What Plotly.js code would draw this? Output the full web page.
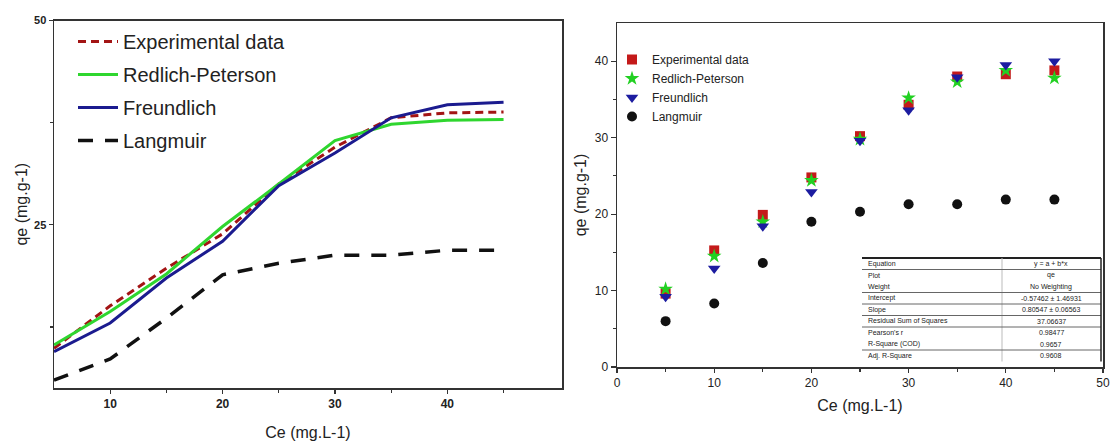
<!DOCTYPE html>
<html>
<head>
<meta charset="utf-8">
<script src="https://cdn.plot.ly/plotly-3.0.1.min.js"></script>
<style>html,body{margin:0;padding:0;background:#fff;}#chart{width:1110px;height:441px;}</style>
</head>
<body>
<div id="chart"></div>
<script>
// ---- data ----
const ce = [5, 10, 15, 20, 25, 30, 35, 40, 45];
// left panel (lines)
const lineExperimental = [9.9, 15.1, 19.7, 23.9, 30.0, 34.5, 38.1, 38.7, 38.8];
const lineRedlichPeterson = [10.3, 14.4, 19.0, 24.8, 30.0, 35.3, 37.3, 37.8, 37.9];
const lineFreundlich = [9.5, 13.0, 18.5, 23.0, 29.8, 33.8, 38.1, 39.7, 40.0];
const lineLangmuir = [6.0, 8.6, 13.6, 18.9, 20.3, 21.3, 21.3, 21.9, 21.9];
// right panel (markers)
const experimental = [9.6, 15.25, 19.9, 24.8, 30.2, 34.3, 38.0, 38.3, 38.8];
const redlichPeterson = [10.2, 14.5, 19.0, 24.4, 29.8, 35.2, 37.3, 38.8, 37.8];
const freundlich = [9.2, 12.9, 18.4, 22.9, 29.6, 33.6, 37.9, 39.5, 40.0];
const langmuir = [6.0, 8.3, 13.6, 19.0, 20.3, 21.3, 21.3, 21.9, 21.9];
const seriesNames = ['Experimental data', 'Redlich-Peterson', 'Freundlich', 'Langmuir'];
const xTitle = 'Ce (mg.L-1)';
const yTitle = 'qe (mg.g-1)';
const tableLabels = ['Equation', 'Plot', 'Weight', 'Intercept', 'Slope', 'Residual Sum of Squares', "Pearson's r", 'R-Square (COD)', 'Adj. R-Square'];
const tableValues = ['y = a + b*x', 'qe', 'No Weighting', '-0.57462 ± 1.46931', '0.80547 ± 0.06563', '37.06637', '0.98477', '0.9657', '0.9608'];

// ---- helpers (pixel -> paper) ----
const W = 1110, H = 441;
const px = x => x / W;
const py = y => 1 - y / H;

const FONT = 'Liberation Sans, Arial, sans-serif';
const cRed = '#a31414', cGreen = '#2fd62f', cBlue = '#1b1b8f', cBlack = '#111111';

const traces = [
  // left panel: lines
  {x: ce, y: lineExperimental, name: seriesNames[0], mode: 'lines', xaxis: 'x', yaxis: 'y', legend: 'legend', legendgroup: 'L1',
   line: {color: cRed, width: 3, dash: '8px,5px'}},
  {x: ce, y: lineRedlichPeterson, name: seriesNames[1], mode: 'lines', xaxis: 'x', yaxis: 'y', legend: 'legend', legendgroup: 'L2',
   line: {color: cGreen, width: 3}},
  {x: ce, y: lineFreundlich, name: seriesNames[2], mode: 'lines', xaxis: 'x', yaxis: 'y', legend: 'legend', legendgroup: 'L3',
   line: {color: cBlue, width: 3}},
  {x: ce, y: lineLangmuir, name: seriesNames[3], mode: 'lines', xaxis: 'x', yaxis: 'y', legend: 'legend', legendgroup: 'L4',
   line: {color: cBlack, width: 3.5, dash: '15px,12px'}},
  // right panel: markers
  {x: ce, y: experimental, name: seriesNames[0], mode: 'markers', xaxis: 'x2', yaxis: 'y2', legend: 'legend2',
   marker: {symbol: 'square', color: '#c41a1a', size: 10}},
  {x: ce, y: redlichPeterson, name: seriesNames[1], mode: 'markers', xaxis: 'x2', yaxis: 'y2', legend: 'legend2',
   marker: {symbol: 'star', color: '#22d022', size: 11}},
  {x: ce, y: freundlich, name: seriesNames[2], mode: 'markers', xaxis: 'x2', yaxis: 'y2', legend: 'legend2',
   marker: {symbol: 'triangle-down', color: '#1c1ca0', size: 11}},
  {x: ce, y: langmuir, name: seriesNames[3], mode: 'markers', xaxis: 'x2', yaxis: 'y2', legend: 'legend2',
   marker: {symbol: 'circle', color: cBlack, size: 10}}
];

const axisCommon = {
  showgrid: false, zeroline: false, showline: true, linecolor: '#333', linewidth: 1.5,
  mirror: true, ticks: 'outside', ticklen: 4, tickcolor: '#333', tickwidth: 1.2
};

// table shapes and annotations
const shapes = [];
const annotations = [];
const tL = 862, tR = 1101, tTop = 258, rowH = 11.5, tDiv = 1002;
shapes.push({type: 'line', xref: 'paper', yref: 'paper', x0: px(tL), x1: px(tR), y0: py(tTop), y1: py(tTop), line: {color: '#222', width: 2}});
shapes.push({type: 'line', xref: 'paper', yref: 'paper', x0: px(tDiv), x1: px(tDiv), y0: py(tTop), y1: py(tTop + rowH * tableLabels.length), line: {color: '#bbb', width: 1}});
[1, 3, 4, 5, 6, 8].forEach(i => {
  shapes.push({type: 'line', xref: 'paper', yref: 'paper', x0: px(tL), x1: px(tR), y0: py(tTop + rowH * i), y1: py(tTop + rowH * i), line: {color: '#666', width: 1}});
});
shapes.push({type: 'line', xref: 'paper', yref: 'paper', x0: px(tR), x1: px(tR), y0: py(tTop), y1: py(tTop + rowH * tableLabels.length), line: {color: '#222', width: 1.5}});
tableLabels.forEach((lab, i) => {
  const yc = tTop + rowH * (i + 0.5);
  annotations.push({xref: 'paper', yref: 'paper', x: px(tL + 4), y: py(yc), text: lab, showarrow: false, xanchor: 'left', yanchor: 'middle', font: {family: FONT, size: 7, color: '#222'}});
  annotations.push({xref: 'paper', yref: 'paper', x: px(1051), y: py(yc), text: tableValues[i], showarrow: false, xanchor: 'center', yanchor: 'middle', font: {family: FONT, size: 7, color: '#222'}});
});

const layout = {
  width: W, height: H,
  margin: {l: 0, r: 0, t: 0, b: 0},
  paper_bgcolor: '#fff', plot_bgcolor: '#fff',
  font: {family: FONT, color: '#222'},
  showlegend: true,
  xaxis: Object.assign({}, axisCommon, {
    domain: [px(54), px(562)], range: [5, 50.2], anchor: 'y',
    tickmode: 'array', tickvals: [10, 20, 30, 40],
    minor: {tickmode: 'array', tickvals: [15, 25, 35, 45], ticks: 'outside', ticklen: 3, tickcolor: '#333'},
    tickfont: {family: FONT, size: 12, color: '#222', weight: 'bold'},
    title: {text: xTitle, font: {family: FONT, size: 16, color: '#222'}, standoff: 17}
  }),
  yaxis: Object.assign({}, axisCommon, {
    domain: [py(388), py(20.5)], range: [5.05, 50], anchor: 'x',
    tickmode: 'array', tickvals: [25, 50],
    minor: {tickmode: 'array', tickvals: [12.5, 37.5], ticks: 'outside', ticklen: 3, tickcolor: '#333'},
    tickfont: {family: FONT, size: 11, color: '#222', weight: 'bold'},
    title: {text: yTitle, font: {family: FONT, size: 16, color: '#222'}, standoff: 2}
  }),
  xaxis2: Object.assign({}, axisCommon, {
    domain: [px(617), px(1103)], range: [0, 50], anchor: 'y2',
    dtick: 10, tick0: 0,
    minor: {dtick: 5, ticks: 'outside', ticklen: 3, tickcolor: '#333'},
    tickfont: {family: FONT, size: 12, color: '#222'},
    title: {text: xTitle, font: {family: FONT, size: 16, color: '#222'}, standoff: 11}
  }),
  yaxis2: Object.assign({}, axisCommon, {
    domain: [py(367), py(23)], range: [0, 45], anchor: 'x2', ticklen: 5,
    tickvals: [0, 10, 20, 30, 40], tickmode: 'array',
    minor: {tickmode: 'array', tickvals: [5, 15, 25, 35], ticks: 'outside', ticklen: 3, tickcolor: '#333'},
    tickfont: {family: FONT, size: 12, color: '#222'},
    title: {text: yTitle, font: {family: FONT, size: 16, color: '#222'}, standoff: 4}
  }),
  legend: {
    x: px(73), y: py(22), xanchor: 'left', yanchor: 'top', bgcolor: 'rgba(0,0,0,0)',
    font: {family: FONT, size: 20, color: '#222'}, itemwidth: 40, tracegroupgap: 4, traceorder: 'grouped'
  },
  legend2: {
    x: px(612), y: py(45), xanchor: 'left', yanchor: 'top', bgcolor: 'rgba(0,0,0,0)',
    font: {family: FONT, size: 12, color: '#222'}, itemwidth: 30, tracegroupgap: 0
  },
  shapes: shapes,
  annotations: annotations
};

Plotly.newPlot('chart', traces, layout, {displayModeBar: false, staticPlot: true});
</script>
</body>
</html>
